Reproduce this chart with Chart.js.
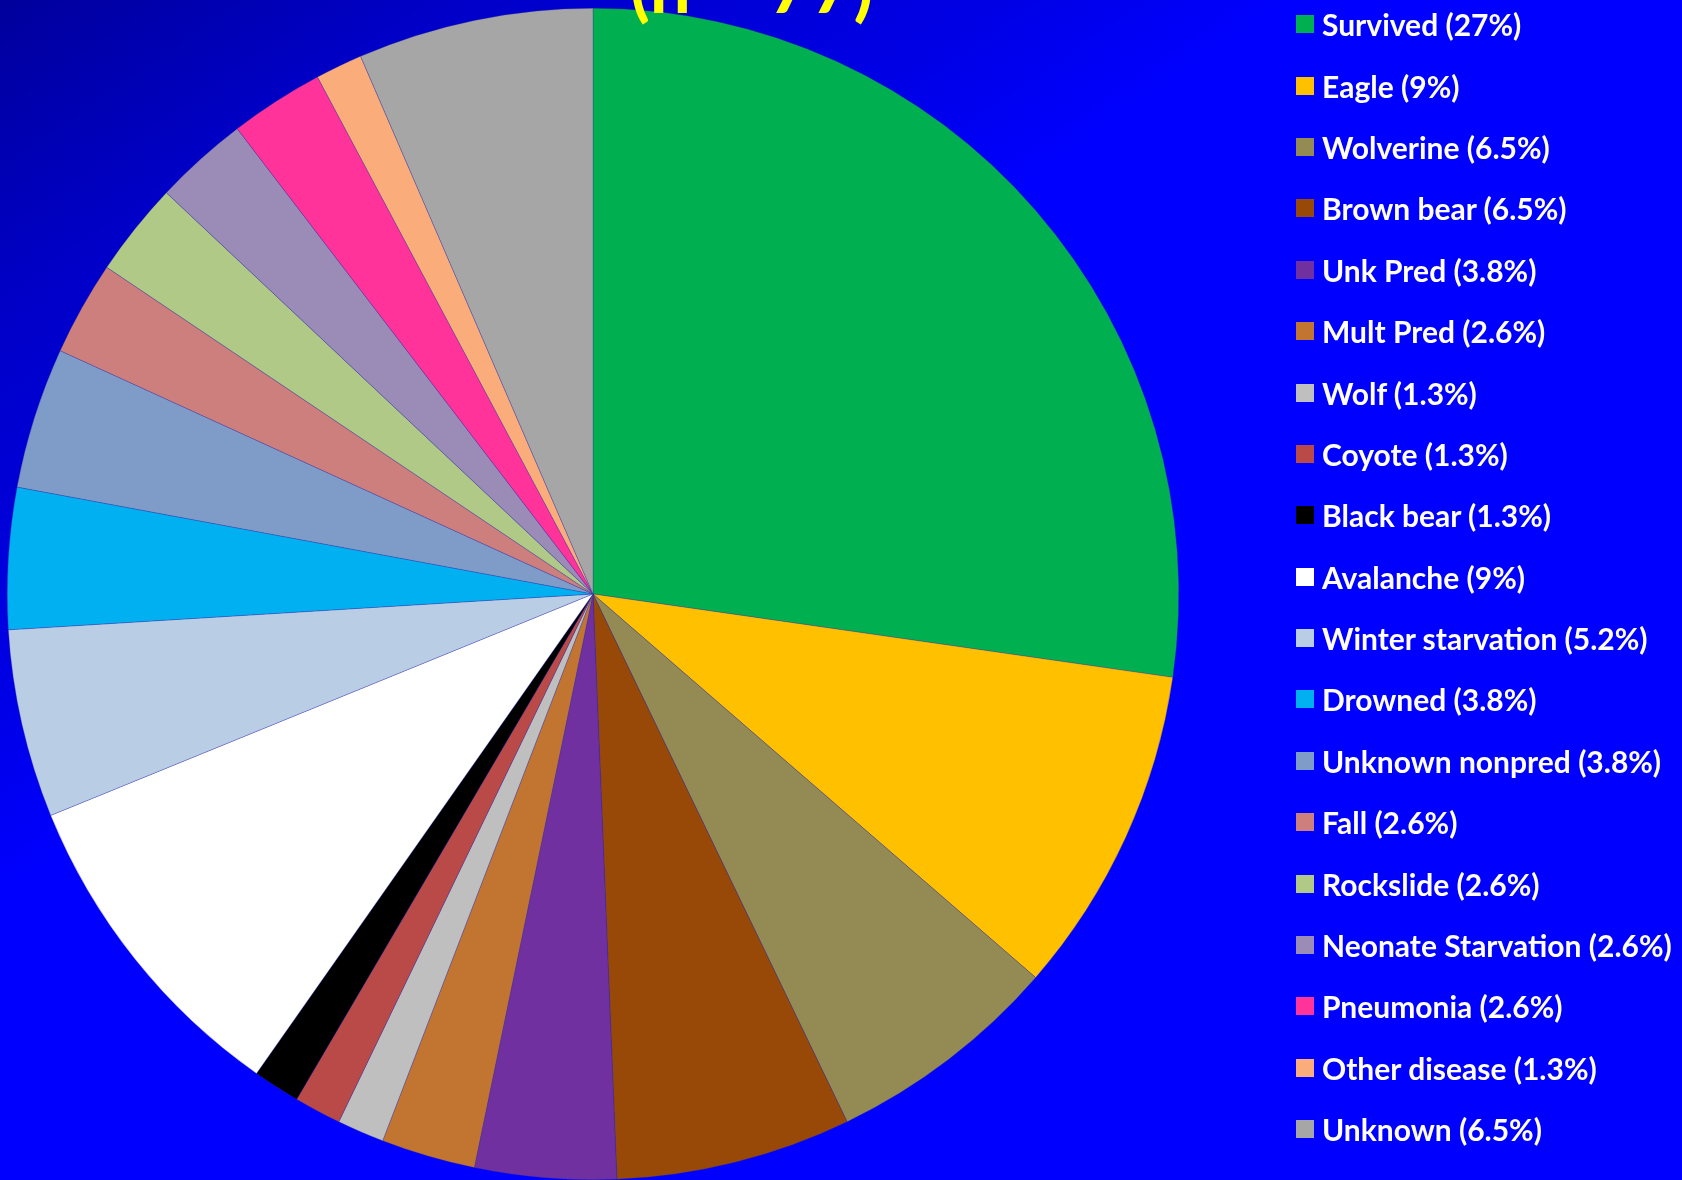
<!DOCTYPE html>
<html>
<head>
<meta charset="utf-8">
<script src="https://cdn.jsdelivr.net/npm/chart.js@4.4.1/dist/chart.umd.min.js"></script>
<style>
  html, body { margin: 0; padding: 0; overflow: hidden; background: #0000ff; }
  #wrap { position: relative; width: 1682px; height: 1180px; }
  #wrap canvas { position: absolute; left: 0; top: 0; }
  #title {
    position: absolute; left: 630px; top: -51px; margin: 0;
    font: bold 73px Lato, sans-serif; line-height: 73px; color: #ffff00; white-space: nowrap;
  }
  #legend { position: absolute; left: 1296px; top: -6.5px; margin: 0; padding: 0; list-style: none; }
  #legend li {
    height: 61.4px; display: flex; align-items: center;
    font: bold 30px Lato, sans-serif; color: #fff; white-space: nowrap;
  }
  #legend span.box { width: 18px; height: 18px; margin-right: 8px; flex: none; }
</style>
</head>
<body>
<div id="wrap">
  <canvas id="pie" width="1682" height="1180"></canvas>
  <div id="title">(n = 77)</div>
  <ul id="legend"></ul>
</div>
<script>
// fates of 77 collared animals (counts)
const causes = ['Survived', 'Eagle', 'Wolverine', 'Brown bear', 'Unk Pred', 'Mult Pred', 'Wolf', 'Coyote',
  'Black bear', 'Avalanche', 'Winter starvation', 'Drowned', 'Unknown nonpred', 'Fall', 'Rockslide',
  'Neonate Starvation', 'Pneumonia', 'Other disease', 'Unknown'];
const counts = [21, 7, 5, 5, 3, 2, 1, 1, 1, 7, 4, 3, 3, 2, 2, 2, 2, 1, 5];
const pctLabels = ['27%', '9%', '6.5%', '6.5%', '3.8%', '2.6%', '1.3%', '1.3%', '1.3%', '9%', '5.2%', '3.8%',
  '3.8%', '2.6%', '2.6%', '2.6%', '2.6%', '1.3%', '6.5%'];
const sliceColors = ['#00b050', '#ffc000', '#948a54', '#984807', '#7030a0', '#c27530', '#bfbfbf', '#b94a48',
  '#000000', '#ffffff', '#b9cde5', '#00b0f0', '#7f9cc8', '#cd7f7e', '#b0c986', '#9a8bb7', '#ff3399',
  '#faad7b', '#a6a6a6'];

const bgPlugin = {
  id: 'bg',
  beforeDraw(chart) {
    const { ctx, width, height } = chart;
    const grad = ctx.createLinearGradient(0, 0, 421, 608);
    grad.addColorStop(0, '#00009c');
    grad.addColorStop(0.35, '#0000c8');
    grad.addColorStop(0.78, '#0000e6');
    grad.addColorStop(1, '#0000ff');
    ctx.save();
    ctx.fillStyle = grad;
    ctx.fillRect(0, 0, width, height);
    ctx.restore();
  }
};

const chart = new Chart(document.getElementById('pie'), {
  type: 'pie',
  data: {
    labels: causes.map((c, i) => `${c} (${pctLabels[i]})`),
    datasets: [{ data: counts, backgroundColor: sliceColors, borderColor: 'rgba(50,50,150,0.6)', borderWidth: 0.5 }]
  },
  options: {
    responsive: false,
    animation: false,
    layout: { padding: { left: 6, right: 502, top: 8, bottom: -2 } },
    plugins: { legend: { display: false }, tooltip: { enabled: false } }
  },
  plugins: [bgPlugin]
});

// legend built from the chart's own legend items
const list = document.getElementById('legend');
chart.options.plugins.legend.labels.generateLabels(chart).forEach(item => {
  const li = document.createElement('li');
  const box = document.createElement('span');
  box.className = 'box';
  box.style.background = item.fillStyle;
  li.appendChild(box);
  li.appendChild(document.createTextNode(item.text));
  list.appendChild(li);
});
</script>
</body>
</html>
